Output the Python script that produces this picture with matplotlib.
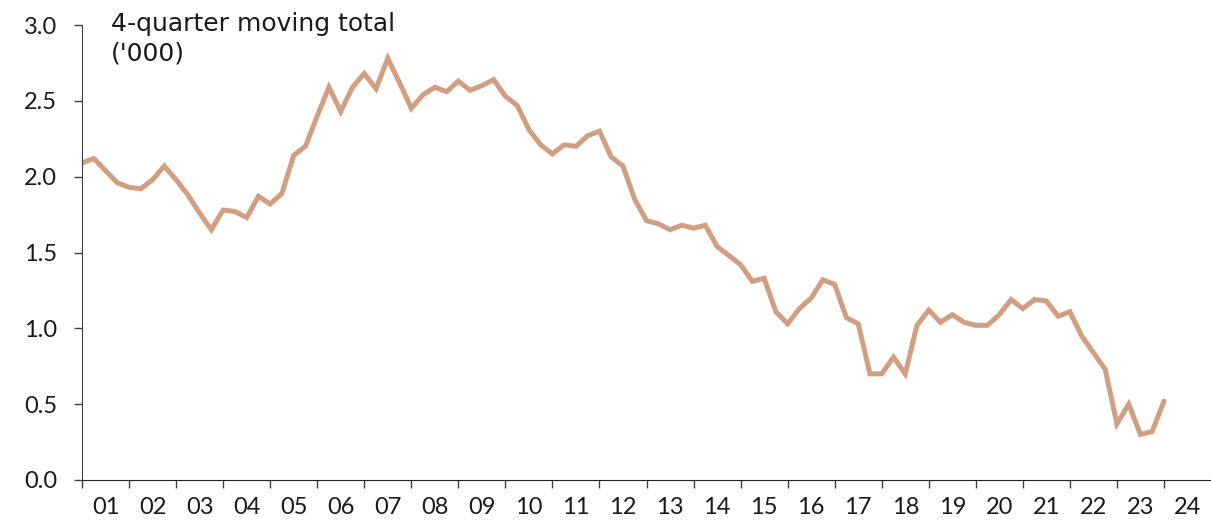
import matplotlib
matplotlib.use("Agg")
import matplotlib.pyplot as plt
from matplotlib.ticker import FixedLocator, NullFormatter, FormatStrFormatter

plt.rcParams["font.family"] = ["Lato", "DejaVu Sans"]

# 4-quarter moving total, quarterly, first point at start of 2001
start_year = 2001
values = [
    2.09, 2.12, 2.04, 1.96, 1.93, 1.92, 1.98, 2.07, 1.98, 1.88, 1.76, 1.65,
    1.78, 1.77, 1.73, 1.87, 1.82, 1.89, 2.14, 2.20, 2.40, 2.59, 2.43, 2.59,
    2.68, 2.58, 2.78, 2.62, 2.45, 2.54, 2.59, 2.56, 2.63, 2.57, 2.60, 2.64,
    2.53, 2.47, 2.31, 2.21, 2.15, 2.21, 2.20, 2.27, 2.30, 2.13, 2.07, 1.85,
    1.71, 1.69, 1.65, 1.68, 1.66, 1.68, 1.54, 1.48, 1.42, 1.31, 1.33, 1.11,
    1.03, 1.13, 1.20, 1.32, 1.29, 1.07, 1.03, 0.70, 0.70, 0.81, 0.70, 1.02,
    1.12, 1.04, 1.09, 1.04, 1.02, 1.02, 1.09, 1.19, 1.13, 1.19, 1.18, 1.08,
    1.11, 0.95, 0.84, 0.73, 0.37, 0.50, 0.30, 0.32, 0.52,
]
x = [start_year + i / 4 for i in range(len(values))]

year_labels = ["%02d" % (y % 100) for y in range(2001, 2025)]

fig = plt.figure(figsize=(12.11, 5.29), dpi=100)
ax = fig.add_axes([82 / 1211, 49 / 529, 1 - 82 / 1211, (480 - 25) / 529])

ax.plot(x, values, color="#D29E82", linewidth=3.6, solid_joinstyle="miter",
        solid_capstyle="round")

ax.set_xlim(2001, 2025)
ax.set_ylim(0, 3.0)
ax.set_yticks([0, 0.5, 1.0, 1.5, 2.0, 2.5, 3.0])
ax.yaxis.set_major_formatter(FormatStrFormatter("%.1f"))

ax.xaxis.set_major_locator(FixedLocator(range(2001, 2025)))
ax.xaxis.set_major_formatter(NullFormatter())
ax.xaxis.set_minor_locator(FixedLocator([y + 0.5 for y in range(2001, 2025)]))
ax.set_xticklabels(year_labels, minor=True)

ax.tick_params(axis="x", which="major", direction="out", length=6, width=1, color="#404040")
ax.tick_params(axis="x", which="minor", length=0, pad=12, labelsize=17, labelcolor="#1a1a1a")
ax.tick_params(axis="y", direction="out", length=6, width=1, color="#404040",
               pad=12, labelsize=17, labelcolor="#1a1a1a")

ax.spines["top"].set_visible(False)
ax.spines["right"].set_visible(False)
ax.spines["left"].set_color("#404040")
ax.spines["bottom"].set_color("#202020")

fig.text(111 / 1211, 1 - 12 / 529, "4-quarter moving total\n('000)",
         ha="left", va="top", fontsize=18, color="#1a1a1a", linespacing=1.3,
         family=["DejaVu Sans"])

fig.savefig("out.png", dpi=100)
